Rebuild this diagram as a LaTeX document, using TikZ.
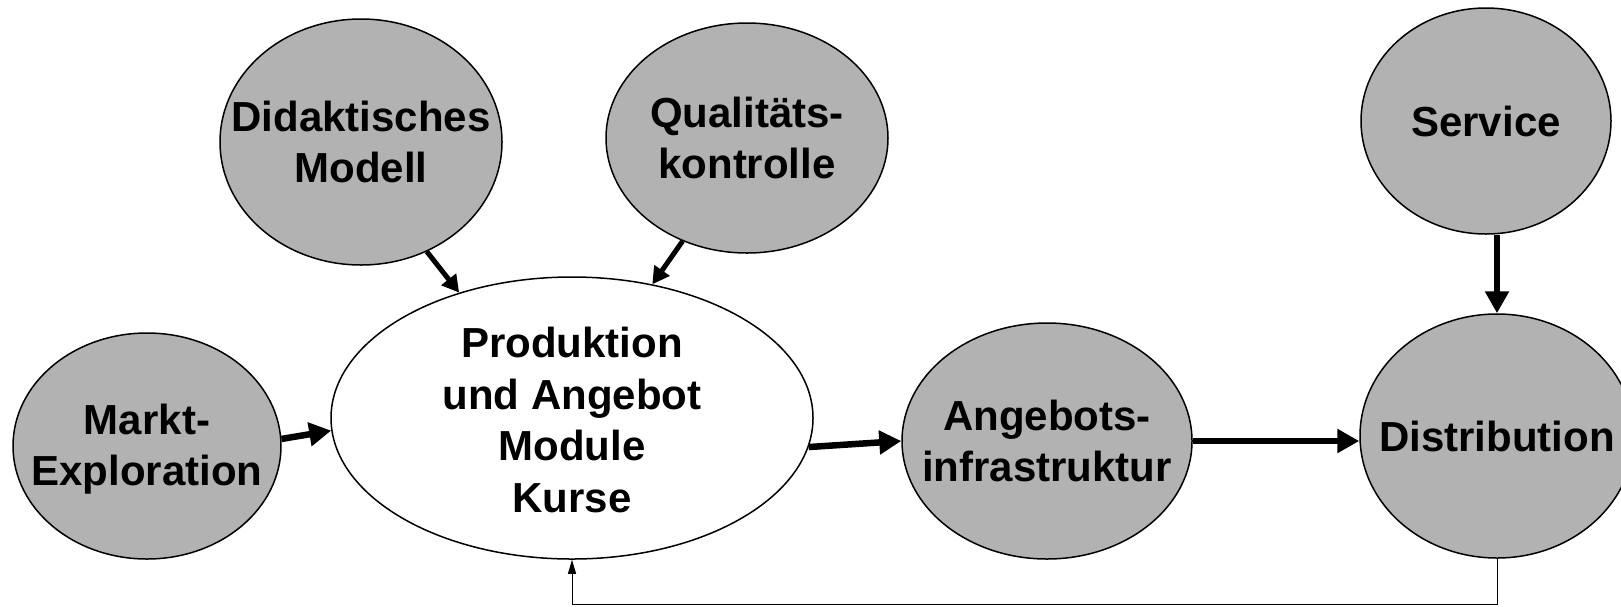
\documentclass[tikz,border=0pt]{standalone}
\usepackage{fontspec}
\setmainfont{Liberation Sans}
\usetikzlibrary{shapes.geometric,arrows.meta}
\definecolor{ellgray}{RGB}{178,178,178}
\begin{document}
\begin{tikzpicture}[x=1pt,y=-1pt,
  ell/.style={ellipse, draw=black, line width=1.5pt, inner sep=0pt, fill=white},
  gell/.style={ell, fill=ellgray},
  txt/.style={font=\fontsize{42}{51.5}\selectfont\bfseries, align=center, inner sep=0pt},
  bigarrow/.style={line width=6.5pt, -{Triangle[length=22pt,width=23pt]}},
  diagarrow/.style={line width=5pt, -{Triangle[length=17pt,width=18pt]}},
  thinarrow/.style={line width=1pt, -{Triangle[length=14pt,width=8pt]}}
]
\useasboundingbox (0,0) rectangle (1621,606);

\node[gell, minimum width=268pt, minimum height=226pt,
  label={[txt,yshift=-3pt]center:Markt-\\Exploration}] (markt) at (147,446) {};
\node[ell, minimum width=482pt, minimum height=282pt,
  label={[txt,yshift=-2pt]center:Produktion\\und Angebot\\Module\\Kurse}] (prod) at (572,418) {};
\node[gell, minimum width=282pt, minimum height=246pt,
  label={[txt]center:Didaktisches\\Modell}] (did) at (361,142) {};
\node[gell, minimum width=282pt, minimum height=230pt,
  label={[txt]center:Qualitäts-\\kontrolle}] (qual) at (747,138) {};
\node[gell, minimum width=250pt, minimum height=226pt,
  label={[txt]center:Service}] (serv) at (1486,121) {};
\node[gell, minimum width=274pt, minimum height=244pt,
  label={[txt]center:Distribution}] (dist) at (1497,436) {};
\node[gell, minimum width=290pt, minimum height=236pt,
  label={[txt]center:Angebots-\\infrastruktur}] (ang) at (1047,441) {};

\draw[bigarrow] (markt.3) -- (prod.183);
\draw[bigarrow] (prod.-7) -- (ang.west);
\draw[bigarrow] (ang.east) -- (ang.east -| dist.west);
\draw[bigarrow] (serv.south -| dist.north) -- (dist.north);
\draw[diagarrow] (did.-59) -- (prod.132);
\draw[diagarrow] (qual.-122) -- (prod.59);

\coordinate (fb) at (0,604);
\draw[thinarrow] (dist.south) -- (dist.south |- fb) -| (prod.south);
\end{tikzpicture}
\end{document}
